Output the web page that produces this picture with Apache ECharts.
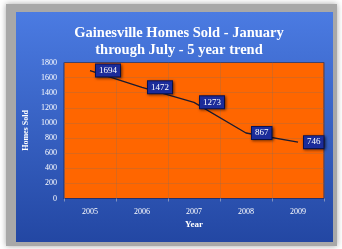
<!DOCTYPE html>
<html><head><meta charset="utf-8">
<script src="https://cdn.jsdelivr.net/npm/echarts@6/dist/echarts.min.js"></script>
<style>html,body{margin:0;padding:0;background:#fff}#c{width:342px;height:249px}</style>
</head><body><div id="c"></div>
<script>
const years = ['2005','2006','2007','2008','2009'];
const homesSold = [1694, 1472, 1273, 867, 746];
const yTicks = {min: 0, max: 1800, interval: 200};
const titleText = 'Gainesville Homes Sold - January\nthrough July - 5 year trend';
const serif = '"Liberation Serif", "DejaVu Serif", serif';

const chart = echarts.init(document.getElementById('c'), null, {renderer: 'canvas'});
chart.setOption({
  animation: false,
  backgroundColor: '#ffffff',
  graphic: [
    {type: 'rect', z: -10, shape: {x: 6, y: 4, width: 331, height: 242},
     style: {fill: '#a8a8a8', shadowBlur: 6, shadowColor: 'rgba(0,0,0,0.35)'}},
    {type: 'rect', z: -9, shape: {x: 16, y: 12, width: 317, height: 230},
     style: {fill: new echarts.graphic.LinearGradient(0, 0, 0, 1, [
       {offset: 0, color: '#4b7be2'}, {offset: 1, color: '#2347a3'}])}}
  ],
  title: {
    text: titleText, left: 174, top: 20, textAlign: 'center',
    textStyle: {color: '#ffffff', fontFamily: serif, fontWeight: 'bold', fontSize: 14.5, lineHeight: 17}
  },
  grid: {left: 64, top: 62.5, right: 18, bottom: 50.5, show: true,
         backgroundColor: '#ff6600', borderColor: '#27306a', borderWidth: 1},
  xAxis: {
    type: 'category', data: years, boundaryGap: true,
    name: 'Year', nameLocation: 'middle', nameGap: 22,
    nameTextStyle: {color: '#ffffff', fontFamily: serif, fontWeight: 'bold', fontSize: 9},
    axisLine: {show: true, lineStyle: {color: '#27306a'}},
    axisTick: {show: true, length: 3, lineStyle: {color: '#7f90c0'}},
    axisLabel: {color: '#ffffff', fontFamily: serif, fontSize: 8, margin: 9},
    splitLine: {show: true, lineStyle: {color: 'rgba(140,110,90,0.3)', width: 1}}
  },
  yAxis: {
    type: 'value', min: yTicks.min, max: yTicks.max, interval: yTicks.interval,
    name: 'Homes Sold', nameLocation: 'middle', nameGap: 30, nameRotate: 90,
    nameTextStyle: {color: '#ffffff', fontFamily: serif, fontWeight: 'bold', fontSize: 8},
    axisLine: {show: false}, axisTick: {show: false},
    axisLabel: {color: '#ffffff', fontFamily: serif, fontSize: 8, margin: 7,
                formatter: function (v) { return String(v); }},
    splitLine: {show: true, lineStyle: {color: 'rgba(140,110,90,0.3)', width: 1}}
  },
  series: [{
    type: 'line', data: homesSold, showSymbol: true, symbol: 'circle', symbolSize: 2,
    itemStyle: {color: 'rgba(0,0,0,0)', borderWidth: 0},
    lineStyle: {color: '#1b1b30', width: 1.3},
    label: {
      show: true, position: 'right', distance: 5,
      color: '#ffffff', fontFamily: serif, fontSize: 9,
      backgroundColor: '#1c2c9a', borderColor: '#0c1458', borderWidth: 1,
      padding: [2, 3, 1, 3],
      shadowColor: 'rgba(0,0,0,0.5)', shadowBlur: 3, shadowOffsetX: 1, shadowOffsetY: 1
    }
  }]
});
</script></body></html>
